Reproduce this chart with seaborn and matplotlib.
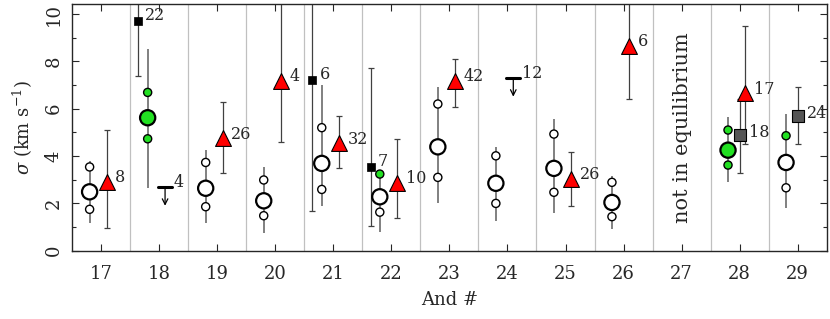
import numpy as np
import pandas as pd
import matplotlib
matplotlib.use('Agg')
import matplotlib.pyplot as plt
import seaborn as sns

# galaxies with dispersion profiles (open/green circles)
gal_circ = [17, 18, 19, 20, 21, 22, 23, 24, 25, 26, 28, 29]
sig_mid = [2.49, 5.62, 2.64, 2.11, 3.69, 2.28, 4.39, 2.85, 3.48, 2.04, 4.25, 3.73]
sig_up = [3.54, 6.69, 3.73, 2.99, 5.20, 3.24, 6.20, 4.01, 4.93, 2.89, 5.10, 4.86]
sig_lo = [1.75, 4.73, 1.86, 1.48, 2.59, 1.63, 3.10, 2.00, 2.47, 1.44, 3.62, 2.66]
sig_top = [3.80, 8.52, 4.25, 3.55, 7.00, 3.40, 6.90, 4.39, 5.56, 3.17, 5.66, 5.78]
sig_bot = [1.16, 2.66, 1.16, 0.73, 1.89, 0.80, 2.00, 1.27, 1.61, 0.90, 2.89, 1.79]
mid_fill = ['o', 'g', 'o', 'o', 'o', 'o', 'o', 'o', 'o', 'o', 'g', 'o']
up_fill = ['o', 'g', 'o', 'o', 'o', 'g', 'o', 'o', 'o', 'o', 'g', 'g']
lo_fill = ['o', 'g', 'o', 'o', 'o', 'o', 'o', 'o', 'o', 'o', 'g', 'o']

# red triangles
gal_tri = [17, 19, 20, 21, 22, 23, 25, 26, 28]
sig_tri = [2.92, 4.75, 7.17, 4.54, 2.87, 7.17, 3.03, 8.65, 6.65]
tri_hi = [5.10, 6.29, 11.0, 5.70, 4.71, 8.09, 4.18, 11.0, 9.51]
tri_lo = [0.97, 3.30, 4.59, 3.51, 1.39, 6.08, 1.89, 6.40, 4.50]
n_tri = [8, 26, 4, 32, 10, 42, 26, 6, 17]

# small black squares
gal_sq = [18, 21, 22]
sig_sq = [9.70, 7.21, 3.55]
sq_hi = [11.0, 11.0, 7.71]
sq_lo = [7.38, 1.69, 1.04]
n_sq = [22, 6, 7]

# grey squares
gal_gsq = [28, 29]
sig_gsq = [4.89, 5.70]
gsq_hi = [6.41, 6.90]
gsq_lo = [3.30, 4.50]
n_gsq = [18, 24]

# upper limits
gal_lim = [18, 24]
sig_lim = [2.70, 7.31]
n_lim = [4, 12]

green = '#22e022'
sns.set_style('ticks')
plt.rcParams['font.family'] = ['DejaVu Serif']
plt.rcParams['mathtext.fontset'] = 'dejavuserif'

fig = plt.figure(figsize=(8.3, 3.19), dpi=100)
ax = fig.add_axes([0.087, 0.214, 0.909, 0.773])

# separators
for g in range(17, 29):
    ax.axvline(g + 0.5, color='#c0c0c0', lw=0.9, zorder=0)

# circle profiles
xc = np.array(gal_circ) - 0.2
ax.vlines(xc, sig_bot, sig_top, color='#808080', lw=1.4, zorder=1)
df_mid = pd.DataFrame({'x': xc, 'y': sig_mid, 'f': mid_fill})
df_small = pd.DataFrame({'x': np.concatenate([xc, xc]),
                         'y': sig_up + sig_lo, 'f': up_fill + lo_fill})
pal = {'o': 'white', 'g': green}
sns.scatterplot(data=df_small, x='x', y='y', hue='f', palette=pal, s=34,
                edgecolor='black', linewidth=1.0, legend=False, ax=ax, zorder=3)
sns.scatterplot(data=df_mid, x='x', y='y', hue='f', palette=pal, s=120,
                edgecolor='black', linewidth=1.6, legend=False, ax=ax, zorder=3)

# triangles
xt = np.array(gal_tri) + 0.1
st = np.array(sig_tri)
ax.errorbar(xt, st, yerr=[st - np.array(tri_lo), np.array(tri_hi) - st], fmt='none',
            ecolor='#404040', elinewidth=0.9, capsize=2.5, capthick=0.9, zorder=1)
sns.scatterplot(x=xt, y=st, marker='^', s=130, color='#ff0000', edgecolor='black',
                linewidth=0.8, ax=ax, zorder=4)
for x, y, n in zip(xt, st, n_tri):
    ax.annotate(str(n), (x, y), xytext=(6, 3), textcoords='offset points',
                ha='left', va='center', fontsize=11.5)

# black squares
xs = np.array(gal_sq) - 0.36
ss = np.array(sig_sq)
ax.errorbar(xs, ss, yerr=[ss - np.array(sq_lo), np.array(sq_hi) - ss], fmt='none',
            ecolor='#404040', elinewidth=0.9, capsize=2.5, capthick=0.9, zorder=1)
sns.scatterplot(x=xs, y=ss, marker='s', s=30, color='black', edgecolor='black',
                linewidth=0.5, ax=ax, zorder=4)
for x, y, n in zip(xs, ss, n_sq):
    ax.annotate(str(n), (x, y), xytext=(5, 4), textcoords='offset points',
                ha='left', va='center', fontsize=11.5)

# grey squares
xg = np.array(gal_gsq)
sg = np.array(sig_gsq)
ax.errorbar(xg, sg, yerr=[sg - np.array(gsq_lo), np.array(gsq_hi) - sg], fmt='none',
            ecolor='#404040', elinewidth=0.9, capsize=2.5, capthick=0.9, zorder=1)
sns.scatterplot(x=xg, y=sg, marker='s', s=80, color='#555555', edgecolor='black',
                linewidth=0.8, ax=ax, zorder=4)
for x, y, n in zip(xg, sg, n_gsq):
    ax.annotate(str(n), (x, y), xytext=(7, 2), textcoords='offset points',
                ha='left', va='center', fontsize=11.5)

# upper limits
xl = np.array(gal_lim) + 0.1
for x, y, n in zip(xl, sig_lim, n_lim):
    ax.plot([x - 0.12, x + 0.12], [y, y], color='black', lw=2.2, zorder=4)
    ax.annotate('', xy=(x, y - 0.8), xytext=(x, y),
                arrowprops=dict(arrowstyle='->', color='black', lw=0.9,
                                mutation_scale=10, shrinkA=0, shrinkB=0))
    ax.annotate(str(n), (x + 0.12, y), xytext=(1, 3), textcoords='offset points',
                ha='left', va='center', fontsize=11.5)

ax.text(27.02, 5.2, 'not in equilibrium', rotation=90, ha='center', va='center',
        fontsize=15)

ax.set_xlim(16.5, 29.5)
ax.set_ylim(0, 10.42)
ax.set_xticks(range(17, 30))
ax.set_yticks(range(0, 11, 2))
ax.set_yticks(range(0, 11), minor=True)
ax.tick_params(which='both', direction='in', top=True, right=True, labelsize=13)
ax.tick_params(which='major', length=5, width=0.8)
ax.tick_params(which='minor', length=3, width=0.8)
ax.tick_params(axis='x', pad=10)
ax.tick_params(axis='y', pad=7)
plt.setp(ax.get_yticklabels(), rotation=90, va='center')
for s in ax.spines.values():
    s.set_linewidth(1.0)
ax.set_xlabel('And #', fontsize=13, labelpad=6)
ax.set_ylabel(r'$\sigma$ (km s$^{-1}$)', fontsize=13, labelpad=7)

fig.savefig('out.png', dpi=100)
